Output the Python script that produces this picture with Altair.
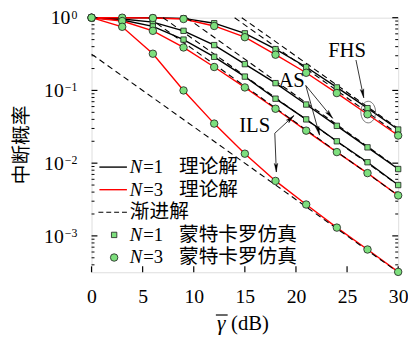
import math
import altair as alt
import pandas as pd

# ---------------- data ----------------
snr_db = [0, 3, 6, 9, 12, 15, 18, 21, 24, 27, 30]
fhs_n1 = [1.0, 1.0, 1.0, 0.98, 0.84, 0.61, 0.37, 0.21, 0.11, 0.057, 0.029]
fhs_n3 = [1.0, 1.0, 0.99, 0.96, 0.77, 0.54, 0.31, 0.175, 0.092, 0.047, 0.024]
as_n1 = [1.0, 0.96, 0.87, 0.66, 0.42, 0.23, 0.126, 0.064, 0.0326, 0.0165, 0.0083]
ils_n1 = [1.0, 0.93, 0.76, 0.50, 0.29, 0.155, 0.077, 0.040, 0.020, 0.0103, 0.0050]
as_n3 = [1.0, 0.90, 0.66, 0.39, 0.21, 0.11, 0.056, 0.028, 0.0142, 0.0073, 0.0036]
ils_n3 = [1.0, 0.75, 0.32, 0.10, 0.035, 0.0135, 0.0057, 0.0027, 0.0013, 0.00065, 0.00032]

# asymptotic (dashed) straight lines: start / end points
asym_x0 = [14.7, 14.0, 9.3, 7.0, 5.6, 0.0]
asym_y0 = [1.0, 1.0, 1.0, 1.0, 1.0, 0.316]
asym_x1 = [30, 30, 30, 30, 30, 30]
asym_y1 = [0.030, 0.025, 0.0085, 0.0050, 0.0036, 0.000316]

x_ticks = [0, 5, 10, 15, 20, 25, 30]
y_major = [1.0, 0.1, 0.01, 0.001]
y_exp = ["0", "\u22121", "\u22122", "\u22123"]
y_minor = [k * 10.0 ** e for e in (-4, -3, -2, -1) for k in range(2, 10)
           if 10 ** -3.5 <= k * 10.0 ** e < 1]

# annotations (data coordinates)
ann_text = ["FHS", "AS", "ILS"]
ann_x = [25.0, 19.57, 15.96]
ann_y = [0.342, 0.134, 0.0321]
arrow_x0 = [25.87, 20.96, 20.96, 17.93, 17.93]
arrow_y0 = [0.262, 0.117, 0.117, 0.0258, 0.0258]
arrow_x1 = [26.63, 23.59, 22.31, 19.81, 18.08]
arrow_y1 = [0.0792, 0.0414, 0.0243, 0.0452, 0.00755]
ellipse_x = [27.07]
ellipse_y = [0.0504]

legend_n = ["N", "N", "", "N", "N"]
legend_eq = ["=1", "=3", "", "=1", "=3"]
legend_cjk = ["理论解", "理论解", "渐进解", "蒙特卡罗仿真", "蒙特卡罗仿真"]

y_title = "中断概率"
x_title_sym = "\u03b3"
x_title_unit = "(dB)"

# ---------------- layout ----------------
W, H = 312, 259
LOGSPAN = 3.5
LATIN = "Liberation Serif"
CJK = "Noto Sans CJK SC"
GREEN = "#7ddf7d"

def px_x(x):
    return x / 30 * W

def px_y(y):
    return -math.log10(y) / LOGSPAN * H

def dat_x(p):
    return p * 30 / W

def dat_y(p):
    return 10 ** (-p * LOGSPAN / H)

XS = alt.Scale(domain=[0, 30], nice=False, zero=False)
YS = alt.Scale(type="log", domain=[10 ** -3.5, 1], nice=False)
X_AX = alt.Axis(values=x_ticks, title=None, ticks=False, tickSize=0, domain=False,
                grid=False, labelFont=LATIN, labelFontSize=20, labelColor="black",
                labelPadding=15, labelFlush=False, labelOverlap=False, format="d")

def X(f="x"):
    return alt.X(f"{f}:Q", scale=XS, axis=X_AX)

def Y(f="y"):
    return alt.Y(f"{f}:Q", scale=YS, axis=None)

# curves
rows = []
for name, grp, vals in [("fhs1", "N1", fhs_n1), ("as1", "N1", as_n1), ("ils1", "N1", ils_n1),
                        ("fhs3", "N3", fhs_n3), ("as3", "N3", as_n3), ("ils3", "N3", ils_n3)]:
    for xv, yv in zip(snr_db, vals):
        rows.append({"x": xv, "y": yv, "curve": name, "grp": grp})
df = pd.DataFrame(rows)

lines = alt.Chart(df).mark_line(strokeWidth=1.4).encode(
    x=X(), y=Y(), detail="curve:N",
    color=alt.Color("grp:N", scale=alt.Scale(domain=["N1", "N3"], range=["black", "#ff0000"]),
                    legend=None),
    order="x:Q",
)

arows = []
for i in range(len(asym_x0)):
    arows.append({"x": asym_x0[i], "y": asym_y0[i], "id": i})
    arows.append({"x": asym_x1[i], "y": asym_y1[i], "id": i})
adf = pd.DataFrame(arows)
asym = alt.Chart(adf).mark_line(color="black", strokeWidth=1.1, strokeDash=[6, 4]).encode(
    x=X(), y=Y(), detail="id:N")

squares = alt.Chart(df[df.grp == "N1"]).mark_point(
    shape="square", filled=True, fill=GREEN, stroke="#1b1b1b", strokeWidth=0.8,
    size=30, opacity=1, clip=False).encode(x=X(), y=Y())
circles = alt.Chart(df[df.grp == "N3"]).mark_point(
    shape="circle", filled=True, fill=GREEN, stroke="#1b1b1b", strokeWidth=0.8,
    size=58, opacity=1, clip=False).encode(x=X(), y=Y())

# ticks (inward)
xt = pd.DataFrame({"x": x_ticks})
xtick = alt.Chart(xt).mark_rule(color="black", strokeWidth=1.2).encode(
    x=X(), y=alt.value(H), y2=alt.value(H - 6))
ymaj = pd.DataFrame({"y": y_major, "e": y_exp})
ymin = pd.DataFrame({"y": y_minor})
ytl = alt.Chart(ymaj).mark_rule(color="black", strokeWidth=1.2).encode(
    y=Y(), x=alt.value(0), x2=alt.value(6))
ytr = alt.Chart(ymaj).mark_rule(color="black", strokeWidth=1.2).encode(
    y=Y(), x=alt.value(W), x2=alt.value(W - 6))
yml = alt.Chart(ymin).mark_rule(color="black", strokeWidth=1).encode(
    y=Y(), x=alt.value(0), x2=alt.value(3))
ymr = alt.Chart(ymin).mark_rule(color="black", strokeWidth=1).encode(
    y=Y(), x=alt.value(W), x2=alt.value(W - 3))

# y labels 10^k, whole label right-aligned
LAB_RIGHT = -14.5
ylabs = []
for val, e in zip(y_major, y_exp):
    ew = 6.0 * sum(ch.isdigit() for ch in e) + (6.8 if "\u2212" in e else 0.0)
    d1 = pd.DataFrame({"y": [val], "e": [e]})
    ylabs.append(alt.Chart(d1).mark_text(
        text="10", font=LATIN, fontSize=20, align="right", baseline="alphabetic", dy=6.8,
        color="black").encode(y=Y(), x=alt.value(LAB_RIGHT - ew - 1)))
    ylabs.append(alt.Chart(d1).mark_text(
        font=LATIN, fontSize=12, align="right", baseline="alphabetic", dy=1,
        color="black").encode(y=Y(), x=alt.value(LAB_RIGHT), text="e:N"))

# axis titles
title_df = pd.DataFrame({"t": [y_title], "g": [x_title_sym], "u": [x_title_unit]})
ytitle = alt.Chart(title_df).mark_text(
    font=CJK, fontSize=20, angle=270, align="center", baseline="middle",
    color="black").encode(text="t:N", x=alt.value(-71), y=alt.value(129.5))
xtitle_g = alt.Chart(title_df).mark_text(
    font=LATIN, fontSize=22, fontStyle="italic", align="center", baseline="alphabetic",
    color="black").encode(text="g:N", x=alt.value(132), y=alt.value(318))
xtitle_bar = alt.Chart(title_df).mark_rule(color="black", strokeWidth=1.2).encode(
    x=alt.value(126.5), x2=alt.value(138.5), y=alt.value(302.5))
xtitle_u = alt.Chart(title_df).mark_text(
    font=LATIN, fontSize=21, align="left", baseline="alphabetic",
    color="black").encode(text="u:N", x=alt.value(142), y=alt.value(318))

# annotations
ann_df = pd.DataFrame({"x": ann_x, "y": ann_y, "t": ann_text})
ann = alt.Chart(ann_df).mark_text(
    font=LATIN, fontSize=21, align="center", baseline="middle", color="black").encode(
    x=X(), y=Y(), text="t:N")

ar_df = pd.DataFrame({"x": arrow_x0, "y": arrow_y0, "x2": arrow_x1, "y2": arrow_y1})
shafts = alt.Chart(ar_df).mark_rule(color="black", strokeWidth=0.8).encode(
    x=X(), y=Y(), x2="x2:Q", y2="y2:Q")

HEAD_R = 4.5
heads = []
for a, b, c, d in zip(arrow_x0, arrow_y0, arrow_x1, arrow_y1):
    sx, sy, tx, ty = px_x(a), px_y(b), px_x(c), px_y(d)
    dx, dy = tx - sx, ty - sy
    n = math.hypot(dx, dy)
    ux, uy = dx / n, dy / n
    cx, cy = tx - ux * HEAD_R, ty - uy * HEAD_R
    ang = math.degrees(math.atan2(ux, -uy)) % 360
    heads.append({"x": dat_x(cx), "y": dat_y(cy), "ang": ang})
head_df = pd.DataFrame(heads)
head = alt.Chart(head_df).mark_point(
    shape="M0,-1L0.42,1L0,0.55L-0.42,1Z", filled=True, fill="black", stroke="black",
    strokeWidth=0.3, size=(2 * HEAD_R) ** 2, opacity=1, clip=False).encode(
    x=X(), y=Y(), angle=alt.Angle("ang:Q", scale=None))

ell_df = pd.DataFrame({"x": ellipse_x, "y": ellipse_y})
ell = alt.Chart(ell_df).mark_point(
    shape="M-0.68,0A0.68,1,0,1,0,0.68,0A0.68,1,0,1,0,-0.68,0Z", filled=False,
    stroke="#555555", strokeWidth=0.8, size=484, opacity=1).encode(x=X(), y=Y())

# manual legend (pixel positions inside the plot)
leg_y = [152, 175, 198, 221, 244]
leg_layers = []
one = pd.DataFrame({"a": [0]})
leg_layers.append(alt.Chart(one).mark_rule(color="black", strokeWidth=1.4).encode(
    x=alt.value(8), x2=alt.value(36), y=alt.value(leg_y[0])))
leg_layers.append(alt.Chart(one).mark_rule(color="#ff0000", strokeWidth=1.4).encode(
    x=alt.value(8), x2=alt.value(36), y=alt.value(leg_y[1])))
leg_layers.append(alt.Chart(one).mark_rule(color="black", strokeWidth=1.1, strokeDash=[5, 3]).encode(
    x=alt.value(7), x2=alt.value(36), y=alt.value(leg_y[2])))
leg_layers.append(alt.Chart(one).mark_point(
    shape="square", filled=True, fill=GREEN, stroke="#1b1b1b", strokeWidth=0.8, size=30,
    opacity=1).encode(x=alt.value(23), y=alt.value(leg_y[3])))
leg_layers.append(alt.Chart(one).mark_point(
    shape="circle", filled=True, fill=GREEN, stroke="#1b1b1b", strokeWidth=0.8, size=58,
    opacity=1).encode(x=alt.value(23), y=alt.value(leg_y[4])))
for i in range(5):
    ldf = pd.DataFrame({"n": [legend_n[i]], "eq": [legend_eq[i]], "c": [legend_cjk[i]]})
    if legend_n[i]:
        leg_layers.append(alt.Chart(ldf).mark_text(
            font=LATIN, fontSize=19, fontStyle="italic", align="left", baseline="middle",
            color="black").encode(text="n:N", x=alt.value(39), y=alt.value(leg_y[i])))
        leg_layers.append(alt.Chart(ldf).mark_text(
            font=LATIN, fontSize=19, align="left", baseline="middle",
            color="black").encode(text="eq:N", x=alt.value(52.5), y=alt.value(leg_y[i])))
        cx = 89
    else:
        cx = 39
    leg_layers.append(alt.Chart(ldf).mark_text(
        font=CJK, fontSize=20, align="left", baseline="middle",
        color="black").encode(text="c:N", x=alt.value(cx), y=alt.value(leg_y[i])))

chart = alt.layer(
    lines, asym, ytl, ytr, yml, ymr, xtick,
    shafts, head, ell, squares, circles, ann,
    *ylabs, ytitle, xtitle_g, xtitle_bar, xtitle_u, *leg_layers
).properties(
    width=W, height=H,
    autosize=alt.AutoSizeParams(type="none"),
    padding={"left": 85, "top": 7, "right": 10, "bottom": 63},
).configure_view(
    stroke="black", strokeWidth=1.5, fill="white"
).configure(background="white")

chart.save("out.html", embed_options={"renderer": "svg", "actions": False})
